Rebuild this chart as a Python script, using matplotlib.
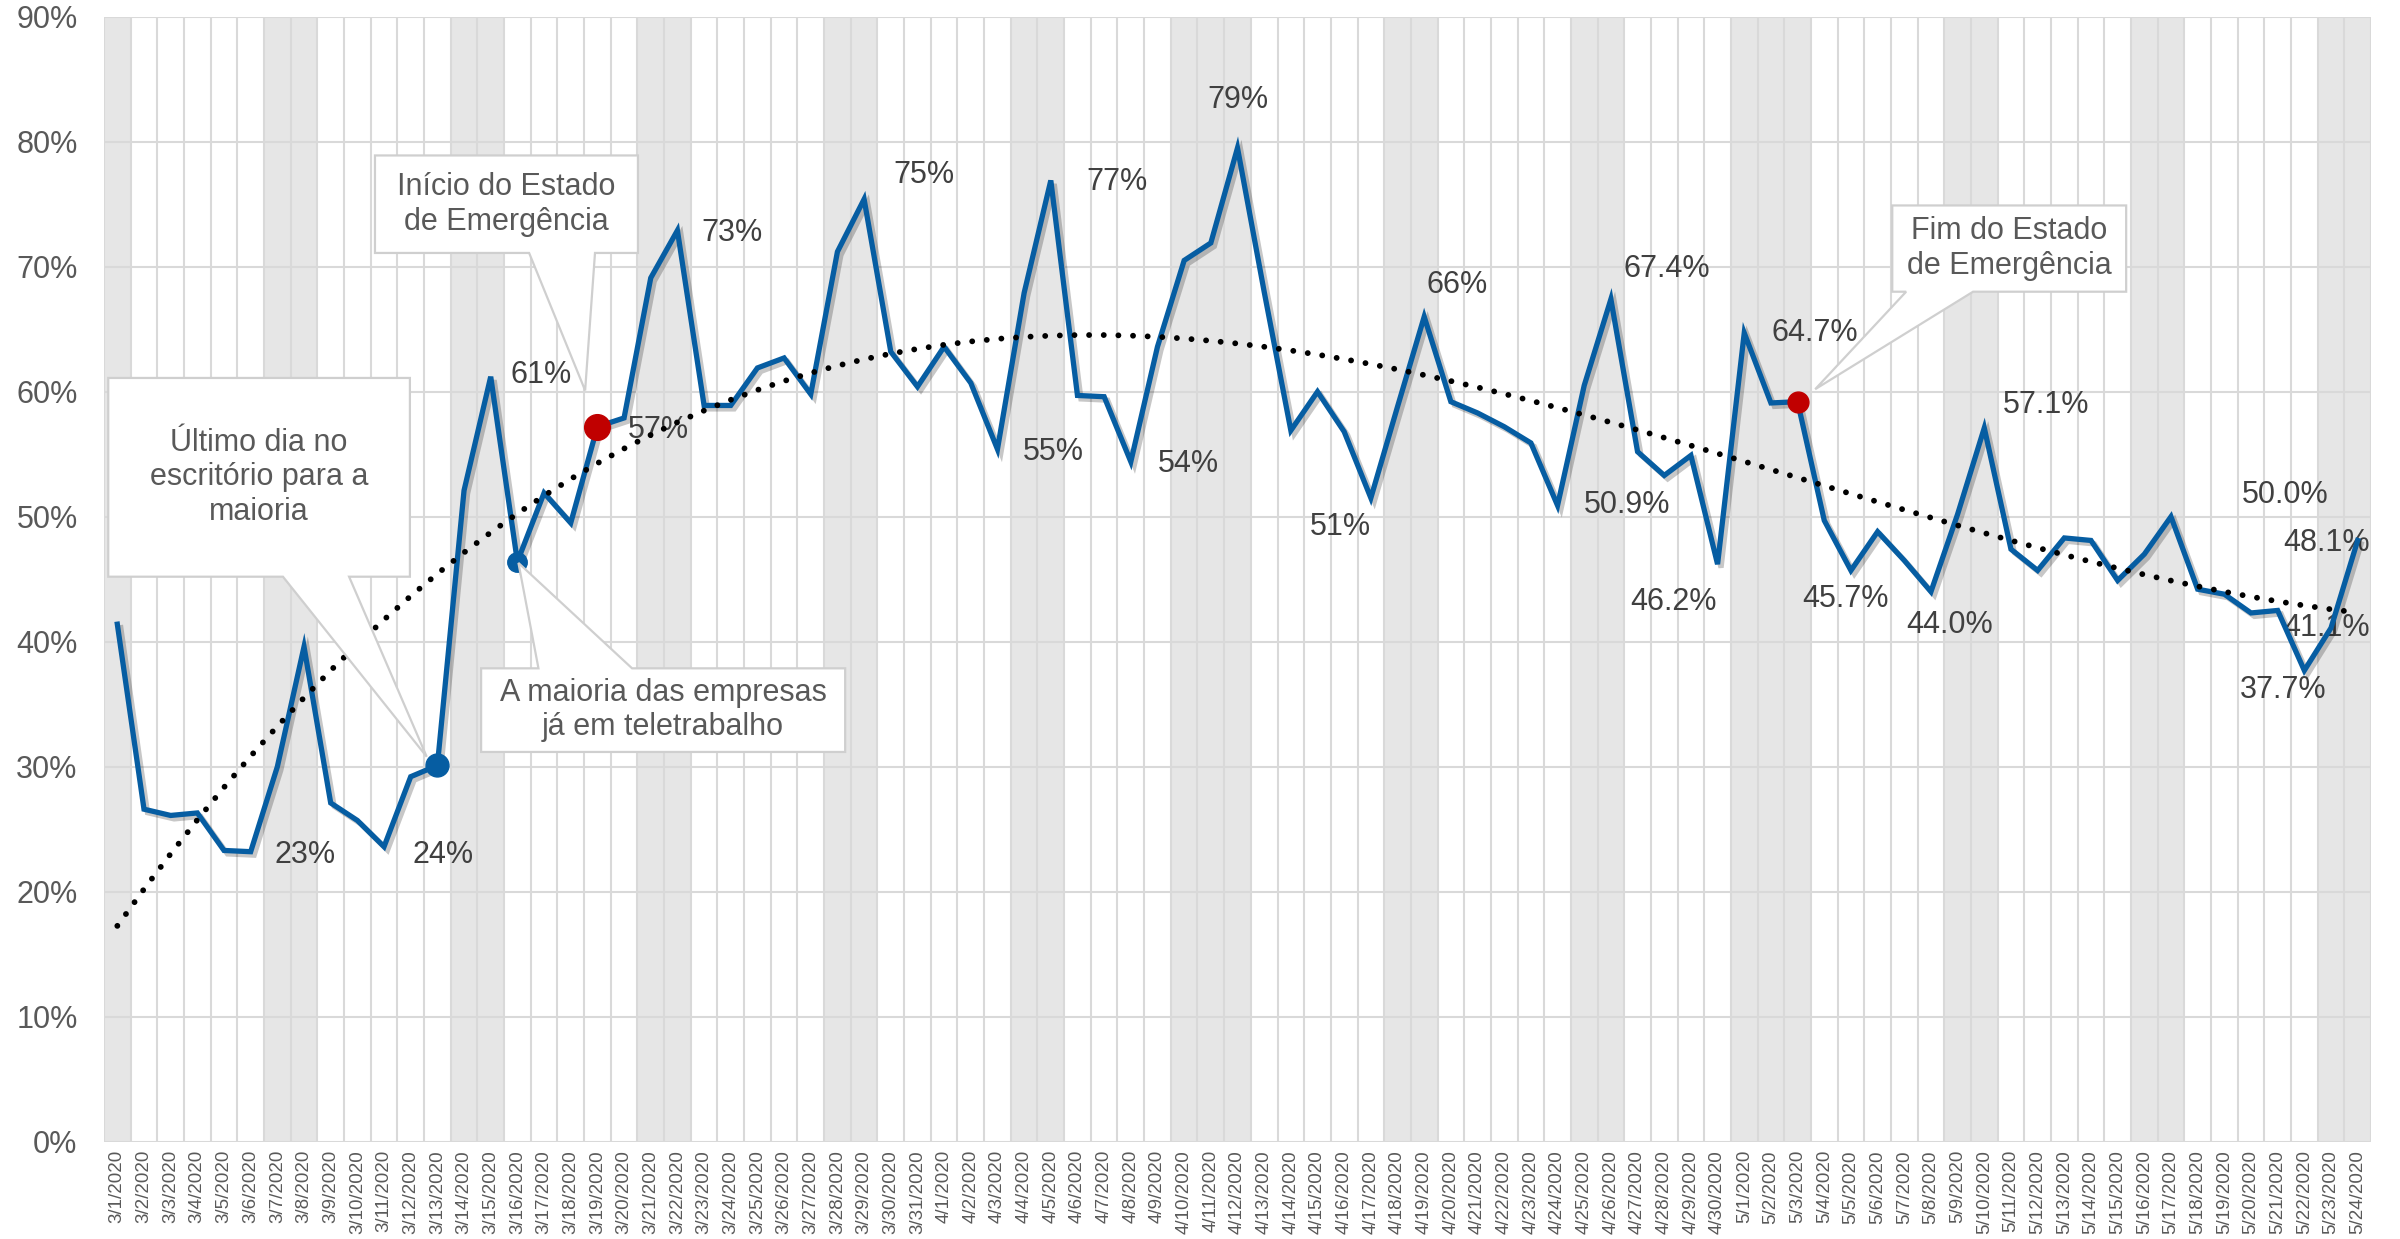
import matplotlib
matplotlib.use("Agg")
import matplotlib.pyplot as plt
import matplotlib.patheffects as pe
from matplotlib.patches import Polygon
import numpy as np
import pandas as pd

plt.rcParams['font.family'] = ['Liberation Sans', 'DejaVu Sans']

# days 3/1/2020 .. 5/24/2020
dates = pd.date_range("2020-03-01", "2020-05-24", freq="D")
date_labels = [f"{d.month}/{d.day}/{d.year}" for d in dates]
holidays = ["4/10/2020", "5/1/2020"]

values = [
    41.4, 26.6, 26.1, 26.3, 23.3, 23.2, 30.0, 39.6, 27.1, 25.7,
    23.6, 29.2, 30.1, 52.1, 61.2, 46.4, 51.9, 49.5, 57.2, 57.9,
    69.1, 72.9, 58.9, 58.9, 61.9, 62.7, 59.8, 71.2, 75.4, 63.2,
    60.4, 63.6, 60.7, 55.4, 67.9, 76.9, 59.7, 59.6, 54.4, 63.6,
    70.5, 71.9, 79.5, 68.0, 56.9, 60.0, 56.8, 51.5, 58.8, 66.0,
    59.2, 58.3, 57.2, 55.9, 50.9, 60.5, 67.4, 55.2, 53.3, 54.9,
    46.2, 64.7, 59.1, 59.2, 49.7, 45.7, 48.8, 46.5, 44.0, 50.2,
    57.1, 47.4, 45.7, 48.3, 48.1, 44.9, 47.0, 50.0, 44.2, 43.8,
    42.3, 42.5, 37.7, 41.1, 48.1,
]

blue_days = ["3/13/2020", "3/16/2020"]
red_days = ["3/19/2020", "5/3/2020"]

label_texts = ["23%", "24%", "61%", "57%", "73%", "75%", "55%", "77%", "54%",
               "79%", "51%", "66%", "50.9%", "67.4%", "46.2%", "64.7%",
               "45.7%", "57.1%", "44.0%", "50.0%", "48.1%", "41.1%", "37.7%"]
label_pos = [(7.05, 22.9), (12.2, 22.9), (15.9, 61.3), (20.3, 56.9),
             (23.05, 72.7), (30.25, 77.3), (35.1, 55.2), (37.5, 76.8),
             (40.15, 54.2), (42.0, 83.3), (45.85, 49.2), (50.25, 68.5),
             (56.6, 50.9), (58.1, 69.8), (58.35, 43.2), (63.65, 64.7),
             (64.8, 43.4), (72.3, 58.9), (68.7, 41.3), (81.3, 51.7),
             (82.85, 47.9), (82.85, 41.1), (81.2, 36.1)]

callouts = [
    dict(text="Último dia no\nescritório para a\nmaioria",
         box=(-0.34, 10.97, 45.2, 61.1), base=(6.21, 8.69), tip=(11.6, 30.8), side="bottom"),
    dict(text="Início do Estado\nde Emergência",
         box=(9.66, 19.52, 71.1, 78.9), base=(15.44, 17.91), tip=(17.54, 60.1), side="bottom"),
    dict(text="A maioria das empresas\njá em teletrabalho",
         box=(13.64, 27.29, 31.18, 37.87), base=(15.79, 19.3), tip=(15.04, 46.3), side="top"),
    dict(text="Fim do Estado\nde Emergência",
         box=(66.55, 75.32, 68.0, 74.9), base=(67.07, 69.58), tip=(63.66, 60.2), side="bottom"),
]

x = np.arange(len(values))
vals = np.array(values)
idx = {lab: i for i, lab in enumerate(date_labels)}

fig = plt.figure(figsize=(24, 12.39), dpi=100)
ax = fig.add_axes([0.04333, 0.07853, 0.94459, 0.90799])

# weekends / holidays shaded
shaded = [i for i, d in enumerate(dates)
          if d.dayofweek >= 5 or date_labels[i] in holidays]
ax.bar(shaded, [90] * len(shaded), width=1.0, color="#E6E6E6", zorder=0)

grid_c = "#D9D9D9"
for k in range(len(values) + 1):
    ax.axvline(k - 0.5, color=grid_c, lw=1.5, zorder=1)
for yv in range(0, 91, 10):
    ax.axhline(yv, color=grid_c, lw=1.5, zorder=1)

# data labels (under the line, as in the original)
for t, (lx, ly) in zip(label_texts, label_pos):
    ax.text(lx, ly, t, ha="center", va="center", fontsize=22,
            color="#404040", zorder=3)

blue = "#065DA2"
ax.plot(x, vals, color=blue, lw=3.8, zorder=4, solid_joinstyle="miter",
        path_effects=[pe.SimpleLineShadow(offset=(2.5, -2.5), shadow_color="black", alpha=0.22),
                      pe.Normal()])

# polynomial trend line
coef = np.polyfit(x, vals, 3)
trend = np.polyval(coef, x)
ax.plot(x, trend, color="black", lw=4.2, linestyle=(0, (0.01, 2.5)),
        dash_capstyle="round", zorder=4.5)

bi = [idx[d] for d in blue_days]
ri = [idx[d] for d in red_days]
ax.plot(bi[0], vals[bi[0]], "o", color=blue, ms=16.5, zorder=5)
ax.plot(bi[1], vals[bi[1]], "o", color=blue, ms=14, zorder=5)
ax.plot(ri[0], vals[ri[0]], "o", color="#C00000", ms=18.5, zorder=5)
ax.plot(ri[1], vals[ri[1]], "o", color="#C00000", ms=15, zorder=5)

for c in callouts:
    x0, x1, y0, y1 = c["box"]
    b1, b2 = c["base"]
    if c["side"] == "bottom":
        verts = [(x0, y1), (x1, y1), (x1, y0), (b2, y0), c["tip"], (b1, y0), (x0, y0)]
    else:
        verts = [(x0, y0), (x1, y0), (x1, y1), (b2, y1), c["tip"], (b1, y1), (x0, y1)]
    ax.add_patch(Polygon(verts, closed=True, facecolor="white",
                         edgecolor="#CFCFCF", lw=1.6, zorder=6))
    ax.text((x0 + x1) / 2, (y0 + y1) / 2, c["text"], ha="center", va="center",
            fontsize=22, color="#595959", linespacing=1.2, zorder=7)

ax.set_xlim(-0.5, len(values) - 0.5)
ax.set_ylim(0, 90)
ax.set_xticks(x)
ax.set_xticklabels(date_labels, rotation=90, fontsize=13.5, color="#595959")
ax.set_yticks(range(0, 91, 10))
ax.set_yticklabels([f"{v}%" for v in range(0, 91, 10)], fontsize=22, color="#595959")
ax.tick_params(axis="both", length=0)
ax.tick_params(axis="y", pad=19)
ax.tick_params(axis="x", pad=6)
for s in ax.spines.values():
    s.set_visible(False)

fig.savefig("out.png", dpi=100)
